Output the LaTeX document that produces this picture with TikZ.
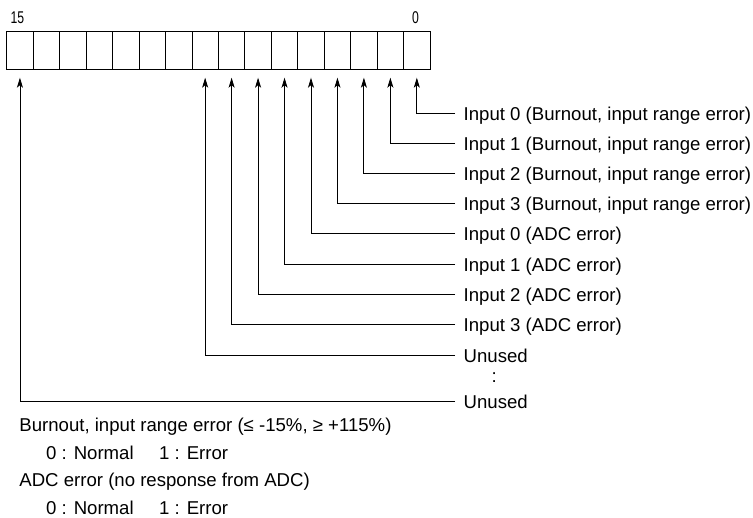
\documentclass[tikz,border=0pt]{standalone}
\usepackage{fontspec}
\setmainfont{Liberation Sans}
\usetikzlibrary{arrows.meta}
\begin{document}
\begin{tikzpicture}[x=1pt,y=-1pt,
  cell/.style={draw, line width=0.8pt, minimum width=26.46pt, minimum height=37.6pt, inner sep=0pt},
  lbl/.style={anchor=west, inner sep=0pt, text height=14.8pt, text depth=0pt, font=\fontsize{18.6}{22}\selectfont},
  txt/.style={anchor=base west, inner sep=0pt, font=\fontsize{18.6}{22}\selectfont},
  bitnum/.style={anchor=base, inner sep=0pt, font=\fontsize{17}{19}\selectfont},
  conn/.style={line width=0.85pt, -{Stealth[length=10pt,width=6pt,inset=2.5pt]}}]
\useasboundingbox (0,0) rectangle (753,518);
\foreach \i in {0,...,15} \node[cell] (c\i) at ({6.7+26.46*(15-\i)+13.23},50.5) {};
\node[bitnum] (n15) at (17.5,23.5) {\scalebox{0.72}[1]{15}};
\node[bitnum] (n0) at (415.5,23.5) {\scalebox{0.72}[1]{0}};
\node[lbl] (L0) at (463.5,113.3) {Input 0 (Burnout, input range error)};
\node[lbl] (L1) at (463.5,143.5) {Input 1 (Burnout, input range error)};
\node[lbl] (L2) at (463.5,173.5) {Input 2 (Burnout, input range error)};
\node[lbl] (L3) at (463.5,203.5) {Input 3 (Burnout, input range error)};
\node[lbl] (L4) at (463.5,233.5) {Input 0 (ADC error)};
\node[lbl] (L5) at (463.5,264) {Input 1 (ADC error)};
\node[lbl] (L6) at (463.5,294) {Input 2 (ADC error)};
\node[lbl] (L7) at (463.5,324.5) {Input 3 (ADC error)};
\node[lbl] (L8) at (463.5,355) {Unused};
\node[txt, anchor=base] (dots) at (494.3,383) {:};
\node[lbl] (L9) at (463.5,401) {Unused};
\foreach \k/\c in {0/0,1/1,2/2,3/3,4/4,5/5,6/6,7/7,8/8,9/15}
  \draw[conn] ([xshift=-8.5pt]L\k.west) -| ([yshift=-8pt]c\c.south);
\node[txt] (b1) at (19.2,432) {Burnout, input range error (≤ -15\%, ≥ +115\%)};
\node[txt] (b2) at (46,459.5) {0 : Normal};
\node[txt] (b3) at (159,459.5) {1 : Error};
\node[txt] (b4) at (19.2,487) {ADC error (no response from ADC)};
\node[txt] (b5) at (46,514.5) {0 : Normal};
\node[txt] (b6) at (159,514.5) {1 : Error};
\end{tikzpicture}
\end{document}
